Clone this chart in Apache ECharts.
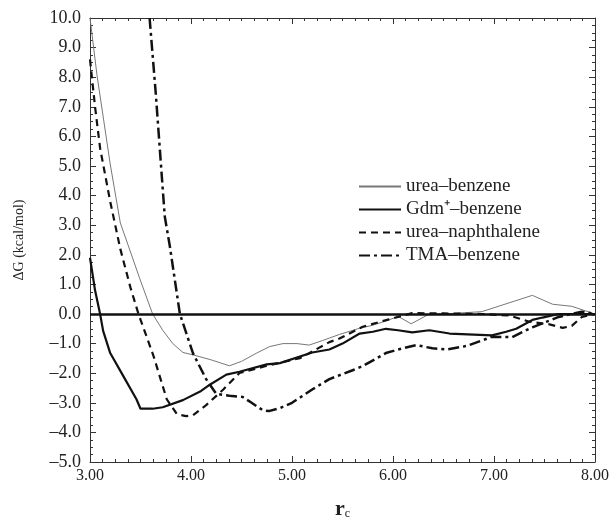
<!DOCTYPE html>
<html>
<head>
<meta charset="utf-8">
<script src="https://cdn.jsdelivr.net/npm/echarts@6/dist/echarts.min.js"></script>
<style>
  html, body { margin: 0; padding: 0; background: #fff; }
  #chart { width: 612px; height: 525px; }
</style>
</head>
<body>
<div id="chart"></div>
<script>
// series names (legend)
var seriesNames = ['urea–benzene', 'Gdm⁺–benzene', 'urea–naphthalene', 'TMA–benzene'];

// [r_c, ΔG]
var ureaBenzene = [
  [3.00, 10.0], [3.07, 8.05], [3.20, 5.07], [3.30, 3.08], [3.38, 2.30], [3.49, 1.22],
  [3.62, 0.00], [3.72, -0.55], [3.82, -1.00], [3.92, -1.30], [4.02, -1.38], [4.20, -1.55],
  [4.38, -1.75], [4.50, -1.60], [4.65, -1.32], [4.78, -1.10], [4.91, -1.00], [5.05, -1.00],
  [5.17, -1.05], [5.30, -0.90], [5.47, -0.69], [5.65, -0.50], [5.80, -0.38], [5.96, -0.20],
  [6.05, -0.08], [6.18, -0.33], [6.36, 0.00], [6.60, 0.02], [6.88, 0.08], [7.38, 0.63],
  [7.58, 0.33], [7.77, 0.26], [7.91, 0.10], [8.00, 0.00]
];
var gdmBenzene = [
  [3.00, 1.90], [3.05, 0.80], [3.10, 0.00], [3.13, -0.57], [3.20, -1.32], [3.33, -2.10],
  [3.46, -2.88], [3.50, -3.20], [3.62, -3.20], [3.72, -3.15], [3.92, -2.91], [4.10, -2.60],
  [4.19, -2.38], [4.35, -2.05], [4.48, -1.95], [4.75, -1.70], [4.88, -1.66], [5.20, -1.30],
  [5.37, -1.20], [5.50, -1.00], [5.67, -0.66], [5.80, -0.60], [5.93, -0.50], [6.05, -0.55],
  [6.19, -0.62], [6.36, -0.55], [6.56, -0.66], [6.98, -0.72], [7.12, -0.60], [7.22, -0.50],
  [7.38, -0.20], [7.48, -0.12], [7.64, 0.00], [8.00, 0.00]
];
var ureaNaphthalene = [
  [3.00, 8.60], [3.05, 7.00], [3.10, 5.60], [3.20, 3.80], [3.30, 2.20], [3.40, 0.90],
  [3.48, 0.00], [3.63, -1.43], [3.76, -2.88], [3.86, -3.38], [3.95, -3.45], [4.02, -3.42],
  [4.15, -3.08], [4.32, -2.55], [4.48, -1.99], [4.75, -1.75], [5.08, -1.49], [5.37, -0.95],
  [5.47, -0.83], [5.70, -0.43], [5.96, -0.18], [6.19, 0.03], [6.50, 0.02], [6.88, 0.00],
  [7.15, -0.05], [7.35, -0.26], [7.55, -0.35], [7.68, -0.47], [7.77, -0.40], [7.87, -0.10],
  [8.00, 0.00]
];
var tmaBenzene = [
  [3.59, 10.0], [3.65, 7.50], [3.74, 3.30], [3.79, 2.30], [3.89, 0.00], [4.02, -1.33],
  [4.15, -2.20], [4.25, -2.70], [4.38, -2.76], [4.51, -2.80], [4.60, -3.00], [4.71, -3.25],
  [4.77, -3.28], [4.88, -3.18], [5.00, -3.00], [5.20, -2.55], [5.37, -2.20], [5.60, -1.90],
  [5.70, -1.76], [5.93, -1.32], [6.05, -1.20], [6.23, -1.05], [6.39, -1.16], [6.53, -1.20],
  [6.73, -1.08], [6.98, -0.77], [7.18, -0.78], [7.38, -0.45], [7.64, -0.10], [7.87, 0.08],
  [8.00, 0.00]
];

var chart = echarts.init(document.getElementById('chart'));

var serif = 'Liberation Serif';
function dash(s) { return s.replace('-', '–'); }

var axisBase = {
  type: 'value',
  axisLine: { show: true, onZero: false, lineStyle: { color: '#333', width: 1 } },
  axisTick: { show: true, inside: true, length: 6, lineStyle: { color: '#333' } },
  splitLine: { show: false }
};

option = {
  animation: false,
  backgroundColor: '#fff',
  grid: { left: 90, right: 16, top: 18, bottom: 54 },
  legend: {
    orient: 'vertical',
    left: 353,
    top: 172,
    itemWidth: 42,
    itemHeight: 12,
    itemGap: 4,
    data: seriesNames,
    itemStyle: { opacity: 0 },
    textStyle: { fontFamily: serif, fontSize: 19, color: '#222' }
  },
  xAxis: [
    Object.assign({}, axisBase, {
      min: 3, max: 8, interval: 1,
      position: 'bottom',
      minorTick: { show: true, splitNumber: 8, length: 3, lineStyle: { color: '#333' } },
      axisLabel: {
        fontFamily: serif, fontSize: 16, color: '#222', margin: 6,
        formatter: function (v) { return v.toFixed(2); }
      },
      name: '{r|r}{c|c}',
      nameLocation: 'middle',
      nameGap: 36,
      nameTextStyle: {
        rich: {
          r: { fontFamily: serif, fontSize: 22, fontWeight: 'bold', color: '#222' },
          c: { fontFamily: serif, fontSize: 12, color: '#222', verticalAlign: 'bottom', padding: [10, 0, 0, 0] }
        }
      }
    }),
    Object.assign({}, axisBase, {
      min: 3, max: 8, interval: 1,
      position: 'top',
      minorTick: { show: true, splitNumber: 8, length: 3, lineStyle: { color: '#333' } },
      axisLabel: { show: false }
    })
  ],
  yAxis: [
    Object.assign({}, axisBase, {
      min: -5, max: 10, interval: 1,
      position: 'left',
      minorTick: { show: true, splitNumber: 4, length: 3, lineStyle: { color: '#333' } },
      axisLabel: {
        fontFamily: serif, fontSize: 18, color: '#222', margin: 9,
        formatter: function (v) { return dash(v.toFixed(1)); }
      },
      name: 'ΔG (kcal/mol)',
      nameLocation: 'middle',
      nameGap: 64,
      nameTextStyle: { fontFamily: serif, fontSize: 14, color: '#222' }
    }),
    Object.assign({}, axisBase, {
      min: -5, max: 10, interval: 1,
      position: 'right',
      minorTick: { show: true, splitNumber: 4, length: 3, lineStyle: { color: '#333' } },
      axisLabel: { show: false }
    })
  ],
  series: [
    {
      name: seriesNames[0], type: 'line', data: ureaBenzene,
      symbol: 'none', clip: true,
      lineStyle: { color: '#777', width: 1 },
      itemStyle: { color: '#777' }
    },
    {
      name: seriesNames[1], type: 'line', data: gdmBenzene,
      symbol: 'none', clip: true,
      lineStyle: { color: '#111', width: 2.2 },
      itemStyle: { color: '#111' },
      markLine: {
        silent: true, symbol: 'none', label: { show: false },
        lineStyle: { color: '#111', width: 2.5, type: 'solid' },
        data: [{ yAxis: 0 }]
      }
    },
    {
      name: seriesNames[2], type: 'line', data: ureaNaphthalene,
      symbol: 'none', clip: true,
      lineStyle: { color: '#111', width: 2.2, type: [7, 5] },
      itemStyle: { color: '#111' }
    },
    {
      name: seriesNames[3], type: 'line', data: tmaBenzene,
      symbol: 'none', clip: true,
      lineStyle: { color: '#111', width: 2.5, type: [11, 4, 3, 4] },
      itemStyle: { color: '#111' }
    }
  ]
};

chart.setOption(option);
</script>
</body>
</html>
